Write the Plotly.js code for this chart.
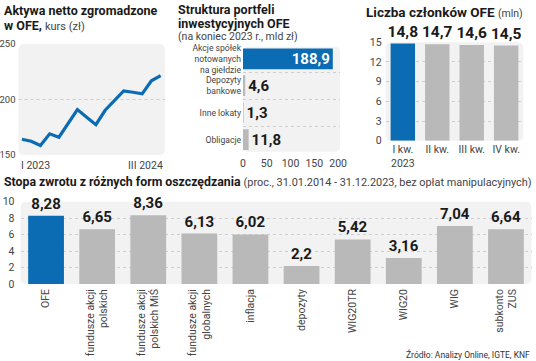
<!DOCTYPE html>
<html><head><meta charset="utf-8">
<script src="https://cdn.plot.ly/plotly-3.0.1.min.js"></script>
<style>html,body{margin:0;padding:0;background:#fff}#chart{width:536px;height:361px}</style>
</head><body><div id="chart"></div>
<script>
// ---- data ----
const lineValues = [164.2,162.4,158.5,169.1,166.0,178.5,190.9,184.1,177.3,190.3,199.4,207.8,206.5,205.1,216.9,221.5];
const lineStartLabel = 'I 2023';
const lineEndLabel = 'III 2024';

const portfolioCats = ['Akcje spółek<br>notowanych<br>na giełdzie','Depozyty<br>bankowe','Inne lokaty','Obligacje'];
const portfolioVals = [188.9,4.6,1.3,11.8];

const membersCats = ['I kw.<br>2023','II kw.','III kw.','IV kw.'];
const membersVals = [14.8,14.7,14.6,14.5];

const returnCats = ['OFE','fundusze akcji<br>polskich','fundusze akcji<br>polskich MiŚ','fundusze akcji<br>globalnych','inflacja','depozyty','WIG20TR','WIG20','WIG','subkonto<br>ZUS'];
const returnVals = [8.28,6.65,8.36,6.13,6.02,2.2,5.42,3.16,7.04,6.64];

// ---- styling ----
const W = 536, H = 361;
const FONT = 'Roboto, sans-serif';
const BLUE = '#0b6cb3', GREY = '#b9b9b9', BG = '#f2f2f2', DARK = '#1a1a1a', TICK = '#444';
const px = x => x / W;
const py = y => 1 - y / H;
const fmt = v => String(v).replace('.', ',');
const hl = (first, n) => Array.from({length: n}, (_, i) => i === 0 ? first : GREY);

// panel frames in pixels [left, right, top, bottom]
const P1 = [18.5, 165, 44, 155], P2 = [243, 340, 46.7, 151.7], P3 = [385.6, 523.4, 42.3, 140.7], P4 = [20.5, 531.5, 201.7, 284];
const dx = p => [px(p[0]), px(p[1])];
const dy = p => [py(p[3]), py(p[2])];

// rounded background for a subplot (domain-referenced)
function roundBg(xs, p, r) {
  const rx = r / (p[1] - p[0]), ry = r / (p[3] - p[2]);
  const path = `M ${rx},0 L ${1 - rx},0 Q 1,0 1,${ry} L 1,${1 - ry} Q 1,1 ${1 - rx},1 L ${rx},1 Q 0,1 0,${1 - ry} L 0,${ry} Q 0,0 ${rx},0 Z`;
  return {type:'path', xref: xs + ' domain', yref: 'y' + xs.slice(1) + ' domain', path,
    fillcolor: BG, line:{width:0}, layer:'below'};
}

const traces = [
  {type:'scatter', mode:'lines', x: lineValues.map((_, i) => i), y: lineValues,
   line:{color:BLUE, width:3.2}, xaxis:'x', yaxis:'y', hoverinfo:'skip'},
  {type:'bar', orientation:'h', y: portfolioCats, x: portfolioVals, xaxis:'x2', yaxis:'y2',
   marker:{color: hl(BLUE, portfolioVals.length)}, width:0.77,
   text: portfolioVals.map(fmt), textposition: portfolioVals.map((_, i) => i === 0 ? 'inside' : 'outside'),
   insidetextanchor:'end', constraintext:'none', cliponaxis:false,
   textfont:{family:FONT, size:15, color: portfolioVals.map((_, i) => i === 0 ? '#fff' : DARK), weight:700}},
  {type:'bar', x: membersCats, y: membersVals, xaxis:'x3', yaxis:'y3',
   marker:{color: hl(BLUE, membersVals.length)}, width:0.71,
   text: membersVals.map(fmt), textposition:'outside', constraintext:'none', cliponaxis:false,
   textfont:{family:FONT, size:15.5, color:DARK, weight:700}},
  {type:'bar', x: returnCats, y: returnVals, xaxis:'x4', yaxis:'y4',
   marker:{color: hl(BLUE, returnVals.length)}, width:0.7,
   text: returnVals.map(fmt), textposition:'outside', constraintext:'none', cliponaxis:false,
   textfont:{family:FONT, size:15, color:DARK, weight:700}}
];

const ax = (o) => Object.assign({fixedrange:true, zeroline:false, showline:false, ticks:'',
  tickfont:{family:FONT, size:10.5, color:TICK}, showgrid:false}, o);

const grid = {showgrid:true, gridcolor:'#cfcfcf', griddash:'dot', gridwidth:1};

const ann = (text, x, y, size, opts) => Object.assign({text, x: px(x), y: py(y), xref:'paper', yref:'paper',
  xanchor:'left', yanchor:'top', showarrow:false, font:{family:FONT, size, color:DARK}}, opts || {});

const layout = {
  width: W, height: H, margin:{l:0, r:0, t:0, b:0},
  paper_bgcolor:'#fff', plot_bgcolor:'rgba(0,0,0,0)', showlegend:false, bargap:0.3,
  font:{family:FONT, color:DARK}, separators:', ',
  // panel 1 - line
  xaxis: ax({domain: dx(P1), range:[-0.37, 15.47], showticklabels:false, anchor:'y'}),
  yaxis: ax({domain: dy(P1), range:[150, 250], tickvals:[150,200,250], anchor:'x', ticklabelstandoff:2,
    tickfont:{family:FONT, size:9.5, color:TICK}}),
  // panel 2 - horizontal bars
  xaxis2: ax({domain: dx(P2), range:[0, 204], tickvals:[0,50,100,150,200], anchor:'y2', ticklabelstandoff:4}),
  yaxis2: ax(Object.assign({domain: dy(P2), type:'category', range:[3.45, -0.45], tickson:'boundaries',
    anchor:'x2', tickfont:{family:FONT, size:8.6, color:TICK}, ticklabelstandoff:1}, grid)),
  // panel 3 - members
  xaxis3: ax({domain: dx(P3), type:'category', anchor:'y3', ticklabelstandoff:1}),
  yaxis3: ax(Object.assign({domain: dy(P3), range:[0, 15], tickvals:[0,3,6,9,12,15], anchor:'x3', ticklabelstandoff:3}, grid)),
  // panel 4 - returns
  xaxis4: ax({domain: dx(P4), type:'category', anchor:'y4', tickangle:-90, ticklabelstandoff:2}),
  yaxis4: ax(Object.assign({domain: dy(P4), range:[0, 10], dtick:2, anchor:'x4', ticklabelstandoff:5}, grid)),
  shapes: [
    roundBg('x', P1, 6), roundBg('x2', P2, 5), roundBg('x3', P3, 6), roundBg('x4', P4, 6),
    {type:'line', xref:'x domain', yref:'y', x0:0, x1:1, y0:200, y1:200, line:{color:'#cfcfcf', width:1, dash:'dot'}, layer:'below'}
  ],
  annotations: [
    ann('<b>Aktywa netto zgromadzone</b>', 2, 1, 12.5),
    ann('<b>w OFE,</b> <span style="font-size:11px;color:#444">kurs (zł)</span>', 2, 16, 12.5),
    {text: lineStartLabel, xref:'x domain', yref:'paper', x:0, y: py(157), xanchor:'left', yanchor:'top', showarrow:false, font:{family:FONT, size:10.5, color:TICK}},
    {text: lineEndLabel, xref:'x domain', yref:'paper', x:1, y: py(157), xanchor:'right', yanchor:'top', showarrow:false, font:{family:FONT, size:10.5, color:TICK}},
    ann('<b>Struktura portfeli</b>', 176, 0, 12.5),
    ann('<b>inwestycyjnych OFE</b>', 176, 14, 12.5),
    ann('(na koniec 2023 r., mld zł)', 176, 27.5, 10.5, {font:{family:FONT, size:10.5, color:'#444'}}),
    ann('<b>Liczba członków OFE</b> <span style="font-size:10.5px;color:#444">(mln)</span>', 364, 2, 13.5),
    ann('<b>Stopa zwrotu z różnych form oszczędzania</b> <span style="font-size:10.9px;color:#444">(proc., 31.01.2014 - 31.12.2023, bez opłat manipulacyjnych)</span>', 2, 173, 12.3),
    {text:'Źródło: Analizy Online, IGTE, KNF', xref:'paper', yref:'paper', x: px(532), y: py(347), xanchor:'right', yanchor:'top', showarrow:false, font:{family:FONT, size:8.5, color:'#333'}}
  ]
};

Plotly.newPlot('chart', traces, layout, {displayModeBar:false, staticPlot:true});
</script></body></html>
